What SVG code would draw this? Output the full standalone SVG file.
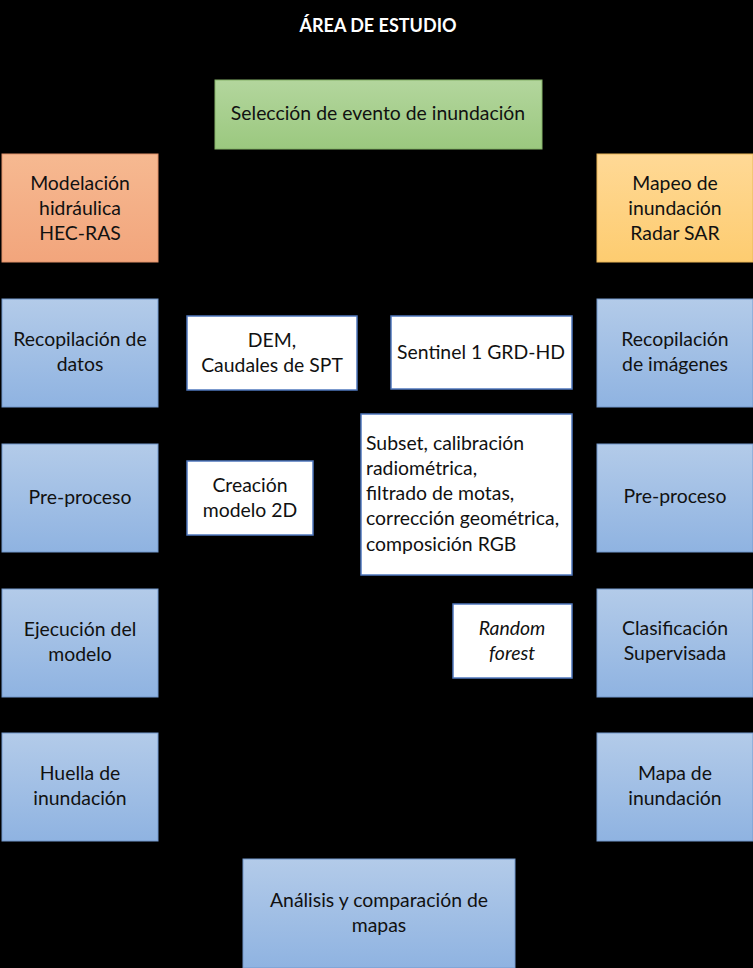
<svg xmlns="http://www.w3.org/2000/svg" width="753" height="968" viewBox="0 0 753 968">
<defs>
<linearGradient id="gBlue" x1="0" y1="0" x2="0" y2="1"><stop offset="0" stop-color="#b3cbe9"/><stop offset="1" stop-color="#8fb3e1"/></linearGradient>
<linearGradient id="gGreen" x1="0" y1="0" x2="0" y2="1"><stop offset="0" stop-color="#b3d69d"/><stop offset="1" stop-color="#9bc87f"/></linearGradient>
<linearGradient id="gOrange" x1="0" y1="0" x2="0" y2="1"><stop offset="0" stop-color="#f6b991"/><stop offset="1" stop-color="#f2a57c"/></linearGradient>
<linearGradient id="gYellow" x1="0" y1="0" x2="0" y2="1"><stop offset="0" stop-color="#ffd996"/><stop offset="1" stop-color="#fdcc70"/></linearGradient>
<style>
text{font-family:Lato,"Liberation Sans",sans-serif;font-size:19.4px;fill:#111;text-anchor:middle}
.blue{fill:url(#gBlue);stroke:#7398cc;stroke-width:1}
.green{fill:url(#gGreen);stroke:#85b269;stroke-width:1}
.orange{fill:url(#gOrange);stroke:#e0916a;stroke-width:1}
.yellow{fill:url(#gYellow);stroke:#e9b659;stroke-width:1}
.white{fill:#fff;stroke:#4f77bd;stroke-width:1.5}
.title{fill:#fff;font-weight:bold;font-size:18px}
.left{text-anchor:start}
</style>
</defs>
<rect width="753" height="968" fill="#000"/>
<text class="title" x="378" y="32">ÁREA DE ESTUDIO</text>
<g id="connectors"></g>
<g id="seleccion"><rect class="green" x="215" y="80" width="327" height="69"/><text x="378" y="120">Selección de evento de inundación</text></g>
<g id="modelacion"><rect class="orange" x="2" y="154" width="156" height="108"/><text x="80" y="190">Modelación</text><text x="80" y="215">hidráulica</text><text x="80" y="240">HEC-RAS</text></g>
<g id="mapeo"><rect class="yellow" x="597" y="154" width="156" height="108"/><text x="675" y="190">Mapeo de</text><text x="675" y="215">inundación</text><text x="675" y="240">Radar SAR</text></g>
<g id="recop-datos"><rect class="blue" x="2" y="299" width="156" height="108"/><text x="80" y="346">Recopilación de</text><text x="80" y="371">datos</text></g>
<g id="dem"><rect class="white" x="187" y="316" width="170" height="74"/><text x="272" y="347">DEM,</text><text x="272" y="372">Caudales de SPT</text></g>
<g id="sentinel"><rect class="white" x="391" y="316" width="181" height="73"/><text x="481" y="359">Sentinel 1 GRD-HD</text></g>
<g id="recop-imagenes"><rect class="blue" x="597" y="299" width="156" height="108"/><text x="675" y="346">Recopilación</text><text x="675" y="371">de imágenes</text></g>
<g id="preproceso-l"><rect class="blue" x="2" y="444" width="156" height="108"/><text x="80" y="504">Pre-proceso</text></g>
<g id="creacion"><rect class="white" x="187" y="461" width="126" height="74"/><text x="250" y="492">Creación</text><text x="250" y="517">modelo 2D</text></g>
<g id="subset"><rect class="white" x="361" y="414" width="211" height="161"/><text class="left" x="366" y="450">Subset, calibración</text><text class="left" x="366" y="475">radiométrica,</text><text class="left" x="366" y="500">filtrado de motas,</text><text class="left" x="366" y="525">corrección geométrica,</text><text class="left" x="366" y="551">composición RGB</text></g>
<g id="preproceso-r"><rect class="blue" x="597" y="444" width="156" height="108"/><text x="675" y="503">Pre-proceso</text></g>
<g id="ejecucion"><rect class="blue" x="2" y="589" width="156" height="108"/><text x="80" y="636">Ejecución del</text><text x="80" y="661">modelo</text></g>
<g id="random"><rect class="white" x="453" y="604" width="119" height="74"/><text x="512" y="635" font-style="italic">Random</text><text x="512" y="660" font-style="italic">forest</text></g>
<g id="clasificacion"><rect class="blue" x="597" y="589" width="156" height="108"/><text x="675" y="635">Clasificación</text><text x="675" y="660">Supervisada</text></g>
<g id="huella"><rect class="blue" x="2" y="733" width="156" height="108"/><text x="80" y="780">Huella de</text><text x="80" y="805">inundación</text></g>
<g id="mapa"><rect class="blue" x="597" y="733" width="156" height="108"/><text x="675" y="780">Mapa de</text><text x="675" y="805">inundación</text></g>
<g id="analisis"><rect class="blue" x="243" y="859" width="272" height="109"/><text x="379" y="907">Análisis y comparación de</text><text x="379" y="932">mapas</text></g>
</svg>
